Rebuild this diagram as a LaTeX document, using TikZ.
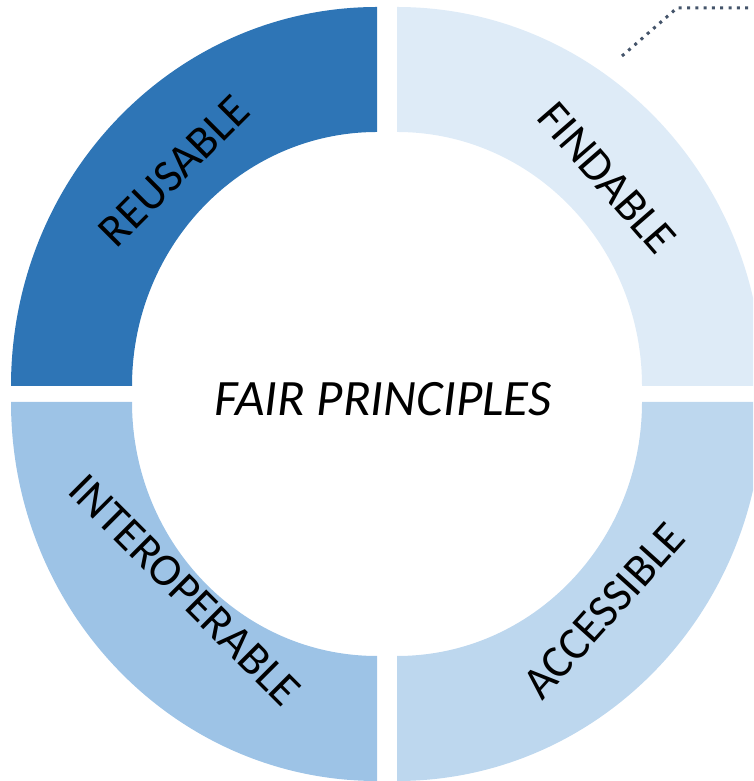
\documentclass[tikz,border=0pt]{standalone}
\usepackage{fontspec}
\setmainfont{Carlito}
\definecolor{reuseblue}{HTML}{2E75B6}
\definecolor{findblue}{HTML}{DEEBF7}
\definecolor{accessblue}{HTML}{BDD7EE}
\definecolor{interblue}{HTML}{9DC3E6}
\definecolor{calloutgray}{HTML}{44546A}
\begin{document}
\begin{tikzpicture}[x=1pt,y=1pt,
        label/.style={inner sep=0pt, text=black, font=\fontsize{46}{55}\selectfont},
        title/.style={inner sep=0pt, text=black, font=\fontsize{51}{61}\selectfont\itshape},
        callout/.style={draw=calloutgray, line width=3pt, dash pattern=on 3pt off 5.3pt}]
        \useasboundingbox (0,0) rectangle (753,781);
        \clip (0,0) rectangle (753,781);

        % four quarters of the ring
        \fill[reuseblue] (11,395) arc[start angle=180, end angle=90, x radius=366, y radius=379]
            -- (377,649) arc[start angle=90, end angle=180, x radius=245, y radius=254] -- cycle;
        \fill[findblue] (397,774) arc[start angle=90, end angle=0, x radius=366, y radius=379]
            -- (642,395) arc[start angle=0, end angle=90, x radius=245, y radius=254] -- cycle;
        \fill[interblue] (11,379) arc[start angle=180, end angle=270, x radius=366, y radius=379]
            -- (377,125) arc[start angle=270, end angle=180, x radius=245, y radius=254] -- cycle;
        \fill[accessblue] (397,0) arc[start angle=270, end angle=360, x radius=366, y radius=379]
            -- (642,379) arc[start angle=0, end angle=-90, x radius=245, y radius=254] -- cycle;

        \node[label, rotate=45] (reusable) at (174, 610) {REUSABLE};
        \node[label, rotate=-49] (findable) at (607, 603) {FINDABLE};
        \node[label, rotate=-45] (interop) at (185, 191) {INTEROPERABLE};
        \node[label, rotate=48] (accessible) at (604, 170) {ACCESSIBLE};
        \node[title, anchor=base] (fair) at (383, 365) {FAIR PRINCIPLES};

        % dotted callout
        \coordinate (calloutA) at (622, 725);
        \coordinate (calloutB) at (677, 773);
        \coordinate (calloutC) at (760, 773);
        \draw[callout] (calloutA) -- (calloutB) -- (calloutC);

    \end{tikzpicture}
\end{document}
